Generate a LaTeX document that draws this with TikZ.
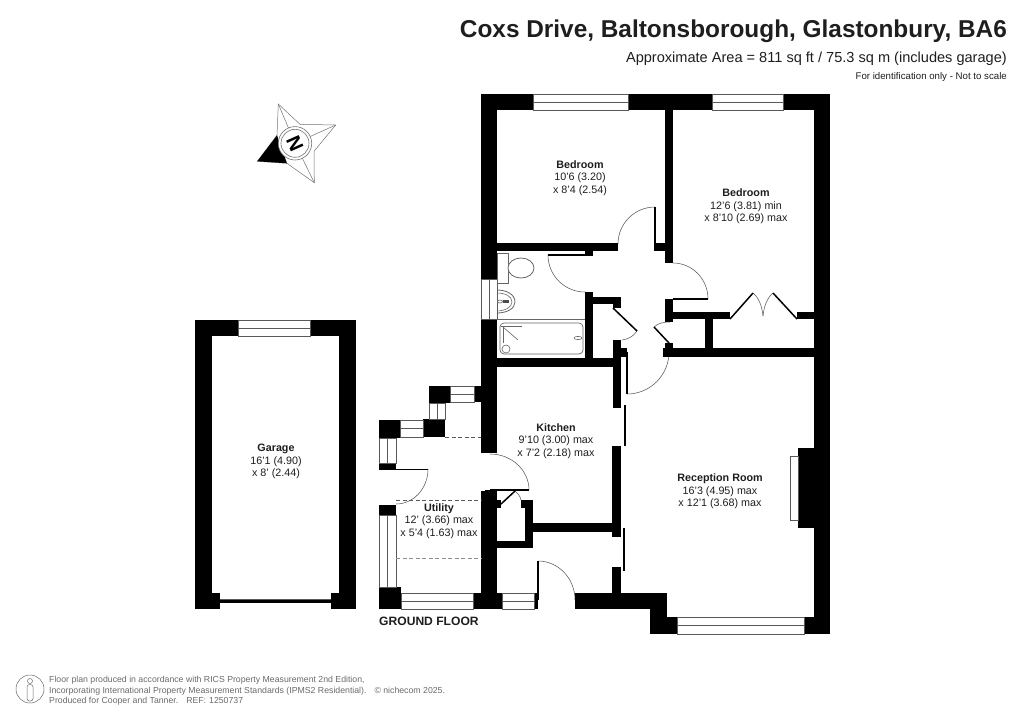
\documentclass[tikz,border=0pt]{standalone}
\usepackage{fontspec}
\setmainfont{Liberation Sans}
\usetikzlibrary{calc}
\definecolor{ink}{HTML}{1E1E1E}
\definecolor{foot}{HTML}{6A6A6A}
\tikzset{
 wall/.style={fill=black,draw=none},
 winframe/.style={draw=black!65,line width=.7pt,fill=white},
 winbar/.style={draw=black!65,line width=.7pt},
 swing/.style={draw=black!65,line width=.55pt},
 leaf/.style={draw=black,line width=1.5pt},
 thinleaf/.style={draw=black,line width=1.1pt},
 fitting/.style={draw=black!60,line width=.6pt},
 dashline/.style={draw=black!65,line width=.7pt,dash pattern=on 4pt off 2.5pt},
 room/.style={align=center,text=ink,font=\fontsize{10.75}{12.4}\selectfont,inner sep=0pt},
}
\newcommand{\wl}[4]{\fill[wall] (#1,#2) rectangle (#3,#4);}
\newcommand{\winh}[4]{\draw[winframe] (#1,#2) rectangle (#3,#4); \draw[winbar] (#1,{(#2+#4)/2}) -- (#3,{(#2+#4)/2});}
\newcommand{\winv}[4]{\draw[winframe] (#1,#2) rectangle (#3,#4); \draw[winbar] ({(#1+#3)/2},#2) -- ({(#1+#3)/2},#4);}
% quarter arc from a to b around c
\newcommand{\qarc}[6]{\draw[swing] (#1,#2) .. controls ($(#1,#2)+0.5523*(#3,#4)-0.5523*(#5,#6)$) and ($(#3,#4)+0.5523*(#1,#2)-0.5523*(#5,#6)$) .. (#3,#4);}
\begin{document}
\begin{tikzpicture}[x=1pt,y=-1pt]
\useasboundingbox (0,0) rectangle (1024,724);
% ---- texts at the top
\node[anchor=base east,inner sep=0pt,text=ink,font=\bfseries\fontsize{24.38}{26}\selectfont] (title) at (1007,37) {Coxs Drive, Baltonsborough, Glastonbury, BA6};
\node[anchor=base east,inner sep=0pt,text=ink,font=\fontsize{14.57}{16}\selectfont] (area) at (1007,62) {Approximate Area = 811 sq ft / 75.3 sq m (includes garage)};
\node[anchor=base east,inner sep=0pt,text=ink,font=\fontsize{9.68}{11}\selectfont] (ident) at (1007,79.5) {For identification only - Not to scale};
% ---- compass
\begin{scope}[shift={(295,143.3)}]
 \draw[draw=black!55,line width=.5pt,fill=white] (-16.7,-39.3) -- (5,-19) -- (40.7,-18.3) -- (19,8) -- (19.3,39.4) -- (-8,20) -- (-37.7,18) -- (-18,-8) -- cycle;
 \fill[black] (-37.7,18) -- (-18,-8) -- (-8,20) -- cycle;
 \draw[draw=black!55,line width=.5pt] (-16.7,-39.3) -- (0,0) (40.7,-18.3) -- (0,0) (19.3,39.4) -- (0,0);
 \draw[draw=black!55,line width=.6pt,fill=white] (0,0) circle (16.7);
 \draw[draw=black!55,line width=.6pt] (0,0) circle (14);
 \node[rotate=114,inner sep=0pt,text=black,font=\bfseries\fontsize{20}{21}\selectfont] (north) at (0,0) {N};
\end{scope}
% ---- door swings (under the walls)
\qarc{655}{207}{618}{244}{655}{244}
\qarc{548}{255}{585}{292}{585}{255}
\qarc{708}{299}{673}{263}{673}{299}
\qarc{627}{394}{669}{352}{627}{352}
\qarc{490}{454}{529}{490}{490}{490}
\qarc{428}{469}{396}{504}{396}{469}
\qarc{538}{561}{575}{600}{538}{600}
\draw[swing] (637,331) .. controls (633,337) and (628,339) .. (622,340);
\draw[swing] (654,327) .. controls (658,323) and (664,322) .. (670,322);
\draw[swing] (515,491) .. controls (518,493) and (520,496) .. (521,500);
\draw[swing] (753,293) .. controls (758,297) and (762,305) .. (763,316);
\draw[swing] (773,293) .. controls (768,297) and (764,305) .. (763,316);
% ---- main outer walls
\wl{481}{94}{533}{110}
\wl{628}{94}{712}{110}
\wl{783}{94}{830}{110}
\wl{481}{94}{497}{279}
\wl{481}{319}{497}{453}
\wl{814}{94}{830}{634}
\wl{804}{617}{830}{634}
\wl{650}{617}{677}{634}
\wl{650}{593}{667}{634}
\wl{575}{593}{667}{609}
\wl{481}{491}{497}{609}
\wl{485}{490}{497}{492}
\wl{473}{593}{502}{609}
\wl{534}{593}{538}{609}
% bedrooms
\wl{665}{110}{673}{263}
\wl{497}{243}{618}{251}
\wl{654}{243}{665}{251}
\wl{585}{251}{593}{256}
% bathroom + cupboard
\wl{585}{292}{593}{367}
\wl{585}{297}{621}{304}
\wl{613}{297}{621}{308}
\wl{497}{358}{621}{367}
\wl{613}{340}{621}{408}
\wl{621}{348}{627}{357}
% landing cupboards
\wl{665}{299}{673}{322}
\wl{665}{312}{730}{319}
\wl{797}{312}{814}{319}
\wl{705}{319}{713}{348}
\wl{663}{348}{814}{357}
\wl{665}{343}{673}{348}
% kitchen + hall
\wl{612}{446}{621}{537}
\wl{612}{567}{621}{593}
\wl{533}{523}{612}{532}
\wl{525}{500}{533}{548}
\wl{521}{500}{533}{508}
\wl{497}{541}{533}{548}
\wl{497}{500}{501}{508}
% chimney
\wl{798}{448}{814}{528}
\draw[winframe] (790,456) rectangle (798,520);
% utility walls
\wl{379}{587}{401}{609}
\wl{379}{505}{396}{515}
\wl{379}{463}{396}{470}
\wl{379}{420}{400}{438}
\wl{423}{419}{445}{437}
\wl{429}{386}{450}{403}
\wl{474}{386}{481}{402}
% ---- garage
\wl{195}{320}{238}{336}
\wl{310}{320}{356}{336}
\wl{195}{320}{212}{609}
\wl{339}{320}{356}{609}
\wl{195}{593}{220}{609}
\wl{331}{593}{356}{609}
\draw[winbar] (220,599) -- (331,599);
\wl{220}{600}{331}{603}
% ---- windows
\winh{533}{94}{628}{110}
\winh{712}{94}{783}{110}
\winh{238}{320}{310}{336}
\winh{677}{617}{804}{634}
\winh{401}{593}{473}{609}
\winh{502}{593}{534}{609}
\winv{481}{279}{497}{319}
\winv{379}{515}{396}{587}
\winv{379}{438}{396}{463}
\winh{400}{420}{423}{437}
\winv{429}{403}{445}{419}
\winh{450}{386}{474}{402}
% ---- door leaves
\draw[thinleaf] (655,207) -- (655,243);
\draw[thinleaf] (548,255) -- (585,255);
\draw[thinleaf] (673,299) -- (708,299);
\draw[thinleaf] (627,352) -- (627,394);
\draw[thinleaf] (490,490) -- (529,490);
\draw[thinleaf] (396,469.5) -- (428,469.5);
\draw[thinleaf] (538,561) -- (538,600);
\draw[thinleaf] (625,405) -- (625,446);
\draw[thinleaf] (624,528) -- (624,571);
\draw[leaf] (613,308) -- (637,331);
\draw[leaf] (669,343) -- (654,327);
\draw[leaf] (501,504) -- (515,491);
\draw[leaf] (730,319) -- (753,293);
\draw[leaf] (773,293) -- (797,319);
% ---- dashed lines
\draw[dashline] (445,437) -- (481,437);
\draw[dashline] (396,500) -- (481,500);
\draw[dashline,draw=black!45] (396,558) -- (481,558);
% ---- sanitary fittings
\draw[fitting,fill=white] (497,253) rectangle (508,283);
\draw[fitting,line width=.8pt,fill=white] (521,268) ellipse [x radius=13,y radius=10];
\draw[fitting,line width=.8pt] (497,290) .. controls (506,290) and (515,294) .. (515,302) .. controls (515,309) and (506,313) .. (497,313);
\draw[fitting] (497,293) .. controls (505,293) and (512,296) .. (512,302) .. controls (512,307) and (505,311) .. (497,311);
\draw[fitting,fill=white] (500,301.5) ellipse [x radius=2.5,y radius=1.5];
\fill[black!70] (503,300) rectangle (509,302.5);
\draw[fitting] (497,319) -- (585,319);
\draw[fitting,rounded corners=4pt,line width=.7pt] (500,323) rectangle (583,354);
\draw[fitting] (501,326) -- (522,326);
\draw[fitting] (503,327) -- (503,343);
\draw[fitting] (503,327) -- (518,340);
\draw[fitting] (506,349) circle (4);
\draw[fitting,fill=white] (578,338) ellipse [x radius=4,y radius=1.6];
% ---- room labels
\node[room] (bed1) at (580,178) {\textbf{Bedroom}\\10'6 (3.20)\\x 8'4 (2.54)};
\node[room] (bed2) at (746,206.5) {\textbf{Bedroom}\\12'6 (3.81) min\\x 8'10 (2.69) max};
\node[room] (kitchen) at (556,441) {\textbf{Kitchen}\\9'10 (3.00) max\\x 7'2 (2.18) max};
\node[room] (utility) at (439,521) {\textbf{Utility}\\12' (3.66) max\\x 5'4 (1.63) max};
\node[room] (reception) at (720,491.5) {\textbf{Reception Room}\\16'3 (4.95) max\\x 12'1 (3.68) max};
\node[room] (garage) at (276,461.5) {\textbf{Garage}\\16'1 (4.90)\\x 8' (2.44)};
\node[anchor=base west,inner sep=0pt,text=ink,font=\bfseries\fontsize{12.1}{14}\selectfont] (floor) at (379,625) {GROUND FLOOR};
% ---- footer
\draw[draw=foot,line width=.5pt] (30,689) circle (14);
\draw[draw=foot,line width=.5pt] (30,681) circle (2.5);
\draw[draw=foot,line width=.5pt,rounded corners=2.5pt] (27,684.5) rectangle (33,701);
\node[anchor=north west,inner sep=0pt,align=left,text=foot,font=\fontsize{8.73}{10.7}\selectfont] (note) at (49,676) {Floor plan produced in accordance with RICS Property Measurement 2nd Edition,\\Incorporating International Property Measurement Standards (IPMS2 Residential).\hspace{8pt}© nichecom 2025.\\Produced for Cooper and Tanner.\hspace{8pt}REF:\hspace{3pt}1250737};
\end{tikzpicture}
\end{document}
